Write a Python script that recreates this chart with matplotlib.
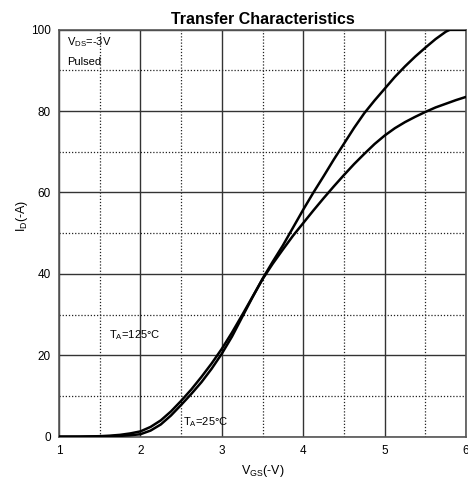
import matplotlib
matplotlib.use("Agg")
import matplotlib.pyplot as plt
from matplotlib.ticker import MultipleLocator

plt.rcParams['font.family'] = ['Liberation Sans', 'DejaVu Sans']

vgs_25 = [1.0, 1.25, 1.5, 1.625, 1.75, 1.875, 2.0, 2.125, 2.25, 2.375, 2.5, 2.625, 2.75, 2.875,
          3.0, 3.125, 3.25, 3.375, 3.5, 3.625, 3.75, 3.875, 4.0, 4.125, 4.25, 4.375, 4.5, 4.625,
          4.75, 4.875, 5.0, 5.125, 5.25, 5.375, 5.5, 5.625, 5.75, 5.8, 6.0]
id_25 = [0, 0.0, 0.05, 0.1, 0.2, 0.35, 0.6, 1.5, 3.0, 5.2, 7.8, 10.5, 13.4, 16.7,
         20.4, 24.6, 29.4, 34.2, 38.8, 43.0, 47.0, 51.4, 55.8, 60.0, 64.0, 68.1, 72.0, 75.9,
         79.5, 82.6, 85.5, 88.4, 91.0, 93.4, 95.6, 97.7, 99.5, 100, 100]

vgs_125 = [1.0, 1.25, 1.5, 1.625, 1.75, 1.875, 2.0, 2.125, 2.25, 2.375, 2.5, 2.625, 2.75, 2.875,
           3.0, 3.125, 3.25, 3.375, 3.5, 3.625, 3.75, 3.875, 4.0, 4.125, 4.25, 4.375, 4.5, 4.625,
           4.75, 4.875, 5.0, 5.125, 5.25, 5.375, 5.5, 5.625, 5.75, 5.875, 6.0]
id_125 = [0, 0.02, 0.12, 0.25, 0.45, 0.8, 1.3, 2.4, 4.0, 6.2, 8.8, 11.6, 14.7, 18.0,
          21.6, 25.6, 29.9, 34.3, 38.7, 42.5, 46.0, 49.4, 52.5, 55.6, 58.6, 61.5, 64.3, 67.0,
          69.5, 71.9, 74.0, 75.8, 77.3, 78.6, 79.8, 80.9, 81.8, 82.7, 83.5]

x_ticks = [1, 2, 3, 4, 5, 6]
y_ticks = [0, 20, 40, 60, 80, 100]

fig = plt.figure(figsize=(4.68, 4.83), dpi=100)
ax = fig.add_axes([0.126, 0.0959, 0.870, 0.8426])

ax.plot(vgs_25, id_25, color='black', lw=1.8, zorder=3, solid_joinstyle='round')
ax.plot(vgs_125, id_125, color='black', lw=1.8, zorder=3, solid_joinstyle='round')

ax.set_xlim(1, 6)
ax.set_ylim(0, 100)
ax.set_xticks(x_ticks)
ax.set_yticks(y_ticks)
ax.xaxis.set_minor_locator(MultipleLocator(0.5))
ax.yaxis.set_minor_locator(MultipleLocator(10))
ax.grid(which='major', color='#333333', lw=1.0, ls='-')
ax.grid(which='minor', color='#222222', lw=0.9, ls=(0, (1, 1.5)))
ax.set_axisbelow(True)
ax.tick_params(which='both', length=0, labelsize=8.5, pad=6)
for s in ax.spines.values():
    s.set_color('#555555')
    s.set_linewidth(1.2)

ax.set_title('Transfer Characteristics', fontsize=11.5, fontweight='bold', pad=4)
ax.set_xlabel('V$_{\\mathregular{GS}}$(-V)', fontsize=9, labelpad=4)
fig.text(22 / 468, 1 - 216 / 483, 'I$_{\\mathregular{D}}$(-A)', fontsize=9,
         rotation=90, ha='center', va='center')

ax.text(1.1, 97, 'V$_{\\mathregular{DS}}$=-3V', fontsize=8, va='center', ha='left')
ax.text(1.1, 92, 'Pulsed', fontsize=8, va='center', ha='left')
ax.text(1.62, 25, 'T$_{\\mathregular{A}}$=125°C', fontsize=8, va='center', ha='left')
ax.text(2.52, 3.5, 'T$_{\\mathregular{A}}$=25°C', fontsize=8, va='center', ha='left')

fig.savefig('out.png', dpi=100)
